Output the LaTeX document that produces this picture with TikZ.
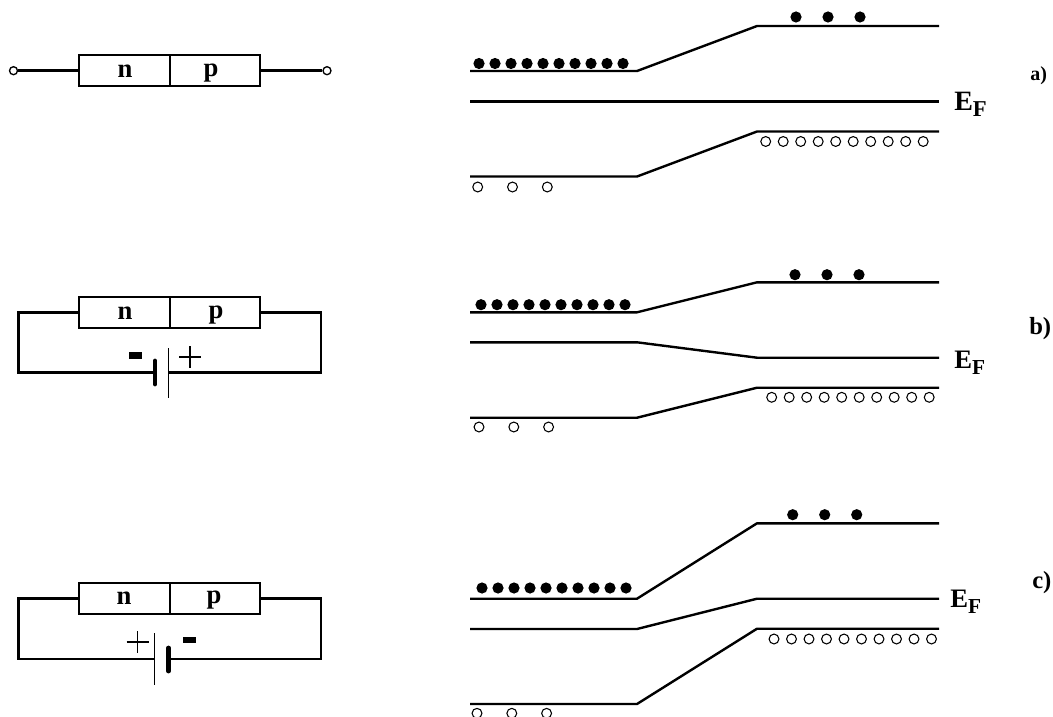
\documentclass[tikz,border=0pt]{standalone}
\usepackage{fontspec}
\setmainfont{Liberation Serif}
\newcommand{\fsz}[1]{\fontsize{#1}{#1}\selectfont\bfseries}
\tikzset{
  x=.75pt,y=-.75pt,
  wire/.style={line width=1.8pt,line join=miter,line cap=butt},
  thinplate/.style={line width=.85pt},
  thickplate/.style={line width=3.6pt,line cap=round},
  band/.style={line width=1.8pt,line join=round},
  cell/.style={draw,line width=1.8pt,rectangle,minimum height=23.2pt,inner sep=0pt},
  cellN/.style={cell,minimum width=68.6pt},
  cellP/.style={cell,minimum width=67.5pt},
  lab/.style={inner sep=0pt,font=\fsz{20}},
  elec/.style={circle,fill=black,draw=none,minimum size=8.4pt,inner sep=0pt},
  hole/.style={circle,fill=white,draw=black,line width=.8pt,minimum size=7.4pt,inner sep=0pt},
  term/.style={circle,fill=white,draw=black,line width=1pt,minimum size=6pt,inner sep=0pt},
  minusbar/.style={fill=black,draw=none,minimum width=9.75pt,minimum height=5pt,inner sep=0pt},
}
% args: name, left y, right y, ef left, ef right, bottom left, bottom right
\newcommand{\bands}[7]{
  \coordinate (#1cl) at (470,#2); \coordinate (#1cm) at (637,#2); \coordinate (#1cn) at (757,#3); \coordinate (#1cr) at (939,#3);
  \coordinate (#1el) at (470,#4); \coordinate (#1em) at (637,#4); \coordinate (#1en) at (757,#5); \coordinate (#1er) at (939,#5);
  \coordinate (#1vl) at (470,#6); \coordinate (#1vm) at (637,#6); \coordinate (#1vn) at (757,#7); \coordinate (#1vr) at (939,#7);
  \draw[band] (#1cl) -- (#1cm) -- (#1cn) -- (#1cr);
  \draw[band] (#1el) -- (#1em) -- (#1en) -- (#1er);
  \draw[band] (#1vl) -- (#1vm) -- (#1vn) -- (#1vr);
}
% args: name, x0, y left, x right, y right
\newcommand{\electrons}[5]{
  \foreach \i in {0,...,9} \node[elec] (#1e\i) at ({#2+16*\i},#3) {};
  \foreach \i in {0,1,2} \node[elec] (#1f\i) at ({#4+32*\i},#5) {};
}
% args: name, x0, y left, x right, y right
\newcommand{\holes}[5]{
  \foreach \i in {0,1,2} \node[hole] (#1h\i) at ({#2+34.8*\i},#3) {};
  \foreach \i in {0,...,9} \node[hole] (#1k\i) at ({#4+17.5*\i},#5) {};
}
\begin{document}
\begin{tikzpicture}
\clip (0,0) rectangle (1053,717);
\fill[white] (0,0) rectangle (1053,717);

% --- circuit a
\node[cellN] (na) at (124.5,70.7) {};
\node[cellP] (pa) at (215,70.7) {};
\node[lab] (tna) at (125,71) {n};
\node[lab] (tpa) at (211,73) {p};
\node[term] (t1) at (13.5,70.7) {};
\node[term] (t2) at (327,70.7) {};
\draw[wire] (t1) -- (na.west);
\draw[wire] (pa.east) -- (t2);

% --- circuit b
\node[cellN] (nb) at (124.5,312.3) {};
\node[cellP] (pb) at (215,312.3) {};
\node[lab] (tnb) at (125,313.5) {n};
\node[lab] (tpb) at (216,315) {p};
\coordinate (bl) at (155,372.3);
\coordinate (br) at (168.5,372.3);
\draw[wire] (nb.west) -- (18.5,312.3) |- (bl);
\draw[wire] (pb.east) -- (321,312.3) |- (br);
\draw[thickplate] (155,361) -- (155,384);
\draw[thinplate] (168.5,348) -- (168.5,398);
\node[minusbar] (mb) at (135.5,355.5) {};
\draw[line width=1.4pt] (179,357) -- (201,357) (190,346) -- (190,368);

% --- circuit c
\node[cellN] (nc) at (124.5,598.3) {};
\node[cellP] (pc) at (215,598.3) {};
\node[lab] (tnc) at (124,598.5) {n};
\node[lab] (tpc) at (214,600.5) {p};
\coordinate (cl) at (154.5,659);
\coordinate (cr) at (168.5,659);
\draw[wire] (nc.west) -- (18.5,598.3) |- (cl);
\draw[wire] (pc.east) -- (321,598.3) |- (cr);
\draw[thinplate] (154.5,633) -- (154.5,685);
\draw[thickplate] (168.5,648) -- (168.5,671);
\node[minusbar] (mc) at (189.5,640) {};
\draw[line width=1.4pt] (126.5,642) -- (148.5,642) (137.5,631) -- (137.5,653);

% --- band diagrams
\bands{a}{71}{26}{101.5}{101.5}{176.5}{131.5}
\electrons{a}{479}{63.5}{796}{17}
\holes{a}{477.7}{187}{765.7}{141.5}
\bands{b}{312.3}{282.3}{342.3}{357.7}{417.7}{387.7}
\electrons{b}{481}{304.7}{795}{274.7}
\holes{b}{479}{427}{771.7}{397.3}
\bands{c}{598.7}{523.3}{629}{598.7}{704}{628.7}
\electrons{c}{482}{588}{792.7}{514.7}
\holes{c}{477}{713.3}{774}{639}

% --- labels
\node[inner sep=0pt,anchor=base west,font=\fsz{21}] (ea) at (954,111) {E\raisebox{-4.5pt}{\fsz{17}F}};
\node[inner sep=0pt,anchor=base west,font=\fsz{20}] (eb) at (954,368) {E\raisebox{-4.5pt}{\fsz{16}F}};
\node[inner sep=0pt,anchor=base west,font=\fsz{20}] (ec) at (950,607) {E\raisebox{-4.5pt}{\fsz{16}F}};
\node[inner sep=0pt,anchor=base west,font=\fsz{15}] (la) at (1030,80) {a)};
\node[inner sep=0pt,anchor=base west,font=\fsz{18.5}] (lb) at (1029,334) {b)};
\node[inner sep=0pt,anchor=base west,font=\fsz{18.5}] (lc) at (1032,588) {c)};
\end{tikzpicture}
\end{document}
